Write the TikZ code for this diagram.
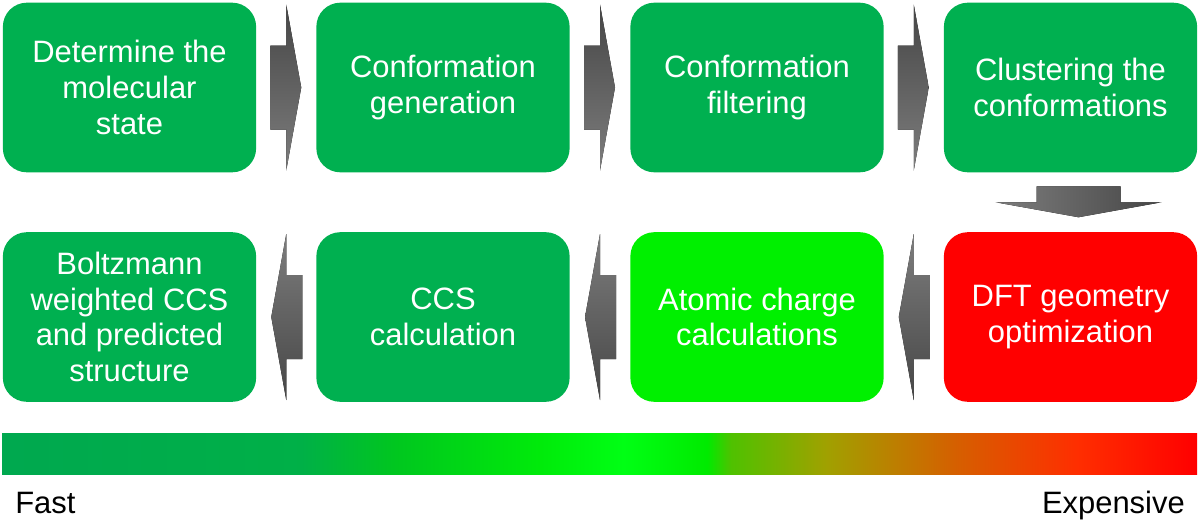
\documentclass[tikz,border=0pt]{standalone}
\usepackage{fontspec}
\setmainfont{Liberation Sans}
\usetikzlibrary{calc}

\definecolor{boxgreen}{RGB}{0,176,80}
\definecolor{limegreen}{RGB}{0,240,0}
\definecolor{hotred}{RGB}{255,0,0}
\definecolor{arrdark}{RGB}{70,70,70}
\definecolor{arrlight}{RGB}{125,125,125}

% cost bar, stops between 25bp and 75bp
\pgfdeclarehorizontalshading{costbar}{100bp}{%
  rgb(0bp)=(0,0.66,0.31);
  rgb(25bp)=(0,0.66,0.31);
  rgb(37.5bp)=(0,0.69,0.28);
  rgb(41.5bp)=(0,0.78,0.12);
  rgb(47.5bp)=(0,0.92,0.04);
  rgb(51bp)=(0,1,0.08);
  rgb(54.5bp)=(0,0.92,0);
  rgb(55.5bp)=(0.31,0.76,0);
  rgb(59.5bp)=(0.63,0.63,0);
  rgb(65bp)=(0.84,0.37,0);
  rgb(70bp)=(1,0.18,0);
  rgb(75bp)=(1,0,0);
  rgb(100bp)=(1,0,0)}

\newcommand{\blockarrow}[3]{% position, angle, shading
  \fill[#3, shift={(#1)}, rotate=#2]
    (-16,-42) -- (0,-42) -- (0,-83) -- (15,0) -- (0,83) -- (0,42) -- (-16,42) -- cycle;
}

\begin{document}
\begin{tikzpicture}[
    x=0.025cm, y=-0.025cm,
    font=\fontsize{22}{25.5}\selectfont,
    box/.style={rectangle, rounded corners=0.6cm, minimum width=6.33cm,
      minimum height=4.24cm, text=white, align=center, inner sep=0pt},
    rshade/.style={top color=arrdark, bottom color=arrlight},
    lshade/.style={top color=arrlight, bottom color=arrdark},
    dshade/.style={left color=arrlight, right color=arrdark}
]
\useasboundingbox (0,0) rectangle (1200,521);

% Top row
\node[box, fill=boxgreen] (molstate) at (129.5,87.5) {Determine the\\molecular\\state};
\node[box, fill=boxgreen] (confgen)  at (443,87.5)   {Conformation\\generation};
\node[box, fill=boxgreen] (conffilt) at (757,87.5)   {Conformation\\filtering};
\node[box, fill=boxgreen] (cluster)  at (1070.5,87.5) {Clustering the\\conformations};

% Bottom row
\node[box, fill=hotred]    (dft)       at (1070.5,317) {DFT geometry\\optimization};
\node[box, fill=limegreen] (charge)    at (757,317)    {Atomic charge\\calculations};
\node[box, fill=boxgreen]  (ccs)       at (443,317)    {CCS\\calculation};
\node[box, fill=boxgreen]  (boltzmann) at (129.5,317)  {Boltzmann\\weighted CCS\\and predicted\\structure};

% Arrows
\coordinate (a1) at ($(molstate.east)!0.5!(confgen.west)$);
\coordinate (a2) at ($(confgen.east)!0.5!(conffilt.west)$);
\coordinate (a3) at ($(conffilt.east)!0.5!(cluster.west)$);
\coordinate (a4) at ($(cluster.south)!0.5!(dft.north)+(8,0)$);
\coordinate (a5) at ($(dft.west)!0.5!(charge.east)$);
\coordinate (a6) at ($(charge.west)!0.5!(ccs.east)$);
\coordinate (a7) at ($(ccs.west)!0.5!(boltzmann.east)$);
\blockarrow{a1}{0}{rshade}
\blockarrow{a2}{0}{rshade}
\blockarrow{a3}{0}{rshade}
\blockarrow{a4}{-90}{dshade}
\blockarrow{a5}{180}{lshade}
\blockarrow{a6}{180}{lshade}
\blockarrow{a7}{180}{lshade}

% Cost bar
\path[shading=costbar] (2,433) rectangle (1197,474);
\node[anchor=base west, inner sep=0pt] (fast) at (15,513) {Fast};
\node[anchor=base east, inner sep=0pt] (expensive) at (1185,513) {Expensive};

\end{tikzpicture}
\end{document}
